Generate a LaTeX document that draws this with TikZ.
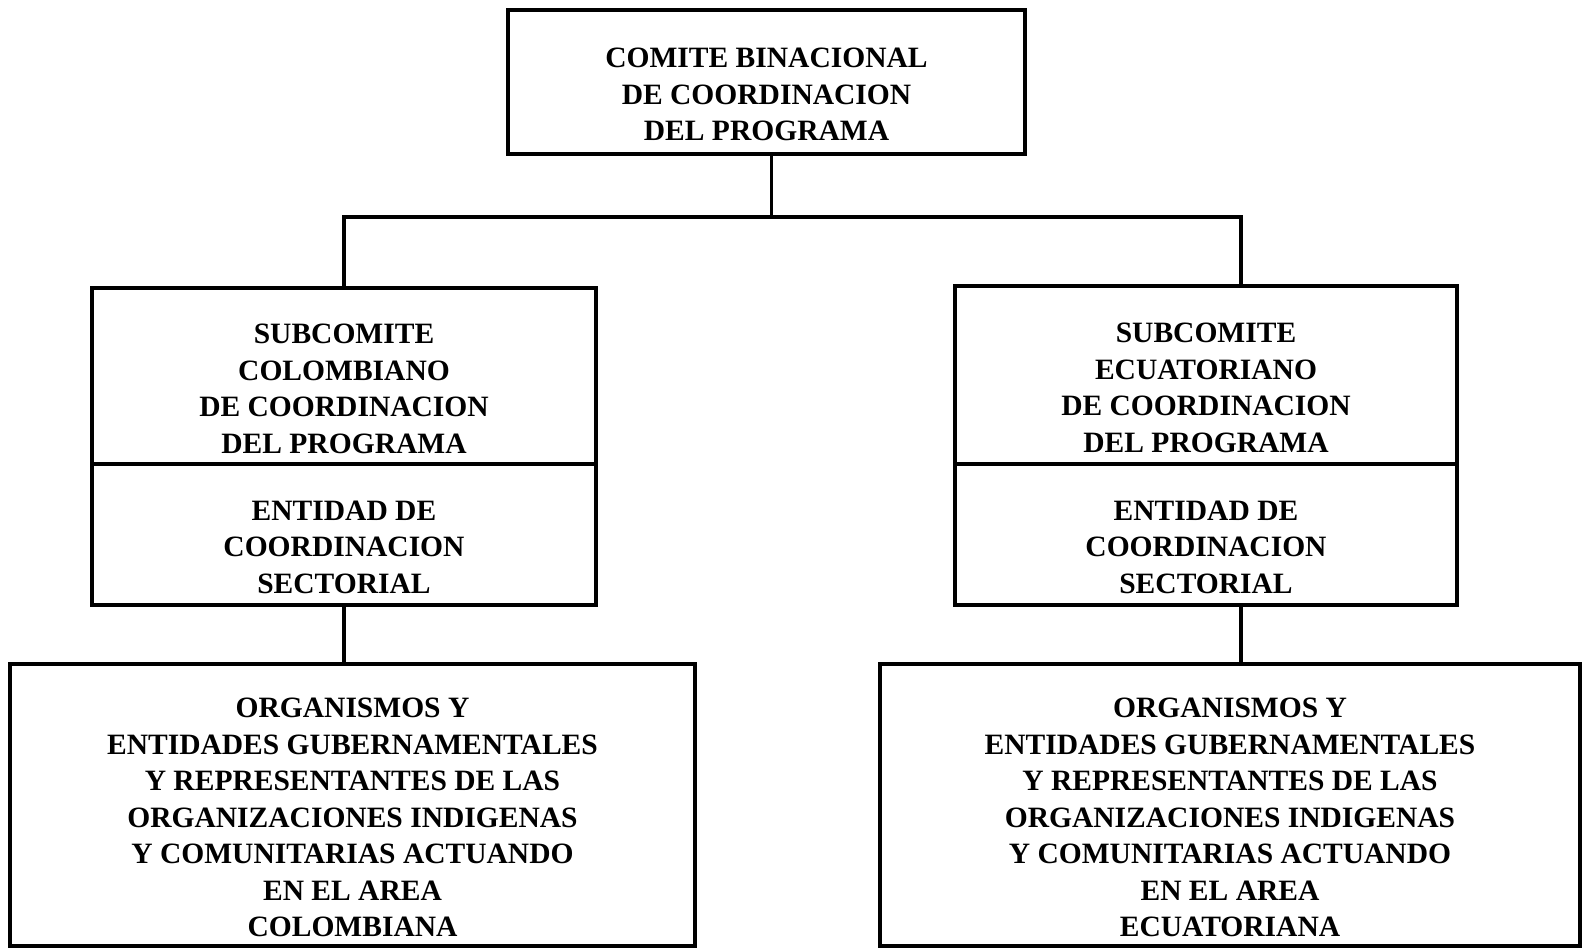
\documentclass[tikz,border=0pt]{standalone}
\usepackage{fontspec}
\setmainfont{Liberation Serif}
\usetikzlibrary{positioning,calc}

% texto bajado un poco dentro de la caja
\newcommand{\bajo}[1]{\raisebox{-1.5mm}[\height][\depth]{\begin{tabular}{@{}c@{}}#1\end{tabular}}}

\begin{document}
\begin{tikzpicture}[
  caja/.style={draw, line width=0.9pt, outer sep=0pt, inner sep=0pt,
    font=\bfseries\fontsize{8.4}{10.4}\selectfont},
  linea/.style={line width=0.9pt}
]
\useasboundingbox (0,0) rectangle (15.82,-9.51);

\node[caja, minimum width=5.17cm, minimum height=1.44cm] (comite) at (7.665,-0.82)
  {\bajo{COMITE BINACIONAL\\DE COORDINACION\\DEL PROGRAMA}};

\node[caja, minimum width=5.04cm, minimum height=1.76cm] (colSub) at (3.44,-3.76)
  {\bajo{SUBCOMITE\\COLOMBIANO\\DE COORDINACION\\DEL PROGRAMA}};
\node[caja, minimum width=5.04cm, minimum height=1.41cm, below=0pt of colSub] (colEnt)
  {\bajo{ENTIDAD DE\\COORDINACION\\SECTORIAL}};

\node[caja, minimum width=5.02cm, minimum height=1.78cm] (ecuSub) at (12.06,-3.75)
  {\bajo{SUBCOMITE\\ECUATORIANO\\DE COORDINACION\\DEL PROGRAMA}};
\node[caja, minimum width=5.02cm, minimum height=1.41cm, below=0pt of ecuSub] (ecuEnt)
  {\bajo{ENTIDAD DE\\COORDINACION\\SECTORIAL}};

\node[caja, minimum width=6.85cm, minimum height=2.82cm] (colOrg) at (3.525,-8.05)
  {\bajo{ORGANISMOS Y\\ENTIDADES GUBERNAMENTALES\\Y REPRESENTANTES DE LAS\\ORGANIZACIONES INDIGENAS\\Y COMUNITARIAS ACTUANDO\\EN EL AREA\\COLOMBIANA}};
\node[caja, minimum width=7.00cm, minimum height=2.82cm] (ecuOrg) at (12.30,-8.05)
  {\bajo{ORGANISMOS Y\\ENTIDADES GUBERNAMENTALES\\Y REPRESENTANTES DE LAS\\ORGANIZACIONES INDIGENAS\\Y COMUNITARIAS ACTUANDO\\EN EL AREA\\ECUATORIANA}};

% ramas
\coordinate (nudo) at ($(comite.south)+(0.05,-0.63)$);
\coordinate (ecuTop) at ($(ecuSub.north)+(0.35,0)$);
\draw[linea] (comite.south -| nudo) -- (nudo);
\draw[linea] (colSub.north) |- (nudo) -| (ecuTop);

\draw[linea] (colEnt.south) -- (colOrg.north -| colEnt.south);
\draw[linea] (ecuEnt.south -| ecuTop) -- (ecuOrg.north -| ecuTop);

\end{tikzpicture}
\end{document}
